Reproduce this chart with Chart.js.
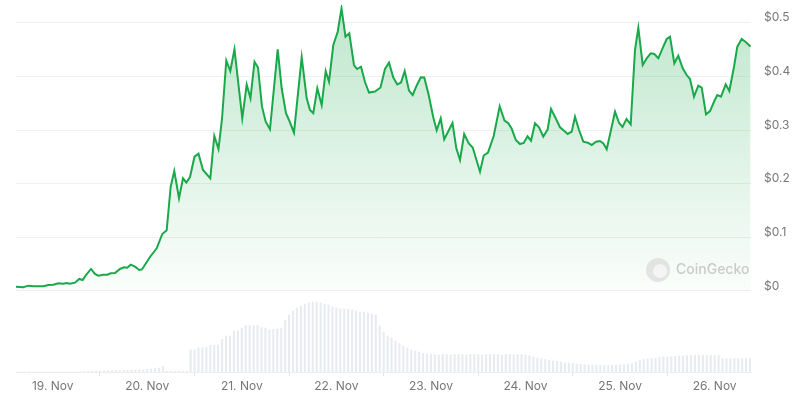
<!DOCTYPE html>
<html>
<head>
<meta charset="utf-8">
<script src="https://cdn.jsdelivr.net/npm/chart.js@4"></script>
<style>
  html, body { margin: 0; padding: 0; background: #fff; }
  #wrap { width: 800px; height: 400px; position: relative; }
</style>
</head>
<body>
<div id="wrap"><canvas id="priceChart"></canvas></div>
<script>
// hours counted from 19 Nov 00:00
var priceHours = [
  -9.31, -7.46, -6.19, -4.92, -2.39, -1.12, 0.15, 1.42, 2.69, 3.55, 4.39, 5.66, 6.75, 7.61, 8.45, 9.72,
  10.74, 11.57, 12.84, 13.86, 14.72, 15.81, 17.08, 18.10, 18.93, 19.80, 20.89, 21.98, 22.66, 24.70,
  26.40, 27.82, 28.93, 29.95, 30.86, 32.06, 33.07, 33.91, 34.85, 35.99, 37.01, 38.15, 40.00, 41.02,
  42.08, 42.97, 44.06, 45.08, 46.14, 48.12, 49.24, 50.20, 51.22, 52.11, 53.12, 54.06, 55.15, 57.11,
  58.12, 59.21, 59.97, 61.24, 63.20, 64.47, 65.30, 66.14, 67.16, 68.27, 69.29, 70.13, 71.22, 72.34,
  73.30, 74.31, 75.28, 76.47, 77.23, 78.25, 79.26, 80.28, 81.80, 83.20, 84.34, 85.36, 86.45, 87.46,
  88.40, 89.34, 90.43, 91.37, 92.39, 93.43, 94.31, 95.43, 96.60, 97.46, 98.48, 99.37, 101.47, 102.44,
  103.38, 104.44, 105.61, 106.60, 108.45, 109.39, 110.48, 111.93, 113.45, 114.67, 115.63, 116.50,
  117.54, 118.60, 119.54, 120.51, 121.40, 122.41, 123.43, 124.52, 125.63, 126.47, 127.66, 128.76,
  129.85, 130.71, 131.73, 132.56, 133.58, 134.67, 135.79, 136.80, 137.89, 138.91, 139.75, 140.61,
  141.70, 142.72, 143.73, 144.62, 145.63, 146.70, 147.79, 148.63, 149.75, 150.76, 151.78, 152.69,
  153.71, 154.97, 155.84, 156.68, 157.77, 158.78, 159.90, 160.91, 161.75, 162.77, 163.86, 164.72,
  165.81, 166.83, 167.92, 168.68, 169.62, 170.81, 171.73, 172.92, 173.76, 174.87, 175.96, 177.11
];
var priceValues = [
  0.0080, 0.0069, 0.0099, 0.0088, 0.0088, 0.0112, 0.0117, 0.0143, 0.0136, 0.0149, 0.0136, 0.0155, 0.0224, 0.0205, 0.0298, 0.0410,
  0.0317, 0.0285, 0.0304, 0.0304, 0.0330, 0.0335, 0.0410, 0.0442, 0.0434, 0.0490, 0.0453, 0.0391, 0.0401, 0.0634,
  0.0796, 0.1062, 0.1131, 0.1944, 0.2236, 0.1728, 0.2100, 0.2022, 0.2124, 0.2503, 0.2559, 0.2255, 0.2100, 0.2889,
  0.2646, 0.3205, 0.4296, 0.4100, 0.4504, 0.3218, 0.3848, 0.3591, 0.4273, 0.4165, 0.3435, 0.3155, 0.3013, 0.4504,
  0.3778, 0.3312, 0.3187, 0.2950, 0.4355, 0.3591, 0.3373, 0.3312, 0.3778, 0.3466, 0.4100, 0.3901, 0.4584, 0.4832,
  0.5268, 0.4739, 0.4802, 0.4212, 0.4137, 0.4180, 0.3895, 0.3699, 0.3718, 0.3792, 0.4137, 0.4255, 0.3979, 0.3848,
  0.3886, 0.4100, 0.3736, 0.3653, 0.3830, 0.3982, 0.3979, 0.3653, 0.3233, 0.2995, 0.3218, 0.2827, 0.3131, 0.2659,
  0.2441, 0.2926, 0.2752, 0.2674, 0.2223, 0.2525, 0.2581, 0.2889, 0.3442, 0.3177, 0.3125, 0.3023,
  0.2814, 0.2739, 0.2758, 0.2883, 0.2801, 0.3125, 0.3051, 0.2876, 0.3013, 0.3392, 0.3218, 0.3051,
  0.2982, 0.2926, 0.2969, 0.3248, 0.3000, 0.2782, 0.2764, 0.2721, 0.2782, 0.2795, 0.2752, 0.2641,
  0.3000, 0.3342, 0.3136, 0.3056, 0.3205, 0.3106, 0.4491, 0.4907, 0.4212, 0.4337, 0.4430, 0.4417,
  0.4337, 0.4553, 0.4696, 0.4739, 0.4243, 0.4385, 0.4150, 0.4025, 0.3951, 0.3621, 0.3826, 0.3789,
  0.3293, 0.3354, 0.3541, 0.3653, 0.3621, 0.3852, 0.3727, 0.4180, 0.4553, 0.4696, 0.4635, 0.4556
];

// hourly volume bars, first bar at volStartHour (relative units)
var volStartHour = -9;
var volumeVals = [
  0.2, 0.2, 0.2, 0.2, 0.2, 0.2, 0.2, 0.2, 0.2, 0.2, 0.2, 0.2, 0.2, 0.2, 0.2, 0.2, 0.2, 0.2,
  0.8, 0.9, 1, 1, 1.1, 1.2, 1.2, 1.3, 1.4, 1.5, 1.6, 1.8, 2, 2.2, 2.4, 2.6, 3, 3.5, 4,
  5.5,
  0.8, 0.8, 0.8, 0.9, 0.9, 1,
  22, 22, 24, 24, 24.5, 26.5, 26.5, 27, 32.5, 36, 36, 41, 41, 44, 46.5, 46.5, 46.5, 46.5, 44.5, 44,
  42, 42.5, 43, 44, 52, 57, 61, 64, 66, 68, 69, 70, 70, 69, 68, 67, 65, 64, 63, 63, 63, 62, 61, 60,
  60, 59, 58, 57, 46, 40, 36, 34, 31, 28.5, 26, 24, 22, 21, 20, 18.5, 18,
  17.5, 17.5, 17, 17.5, 17.5, 17, 17.5, 17.5, 17.5, 17, 17.5, 17.5, 17.5, 17, 17.5, 17.5, 17.5, 17.5,
  17, 17.5, 17.5, 17, 17.5, 17.5, 17,
  16, 15, 14, 13, 12.5, 11.5, 11, 10.5, 10, 9, 9, 8.5, 8, 7.7, 7.5,
  7, 7, 6.8, 6.7, 6.7, 6.7, 6.8, 7,
  7.2, 7.5, 8, 8.5, 10, 11.5, 12.5, 13, 13.5, 14, 14.5, 15, 15, 15.5, 15.5, 16, 16,
  16.5, 16.5, 16.7, 16.7, 16.7, 16.7, 16.7, 16.5, 16.5,
  13.5, 13.3, 13.3, 13.3, 13.3, 13.3, 13.3, 13.3
];

var dayHours = [0, 24, 48, 72, 96, 120, 144, 168];
var dayLabels = ['19. Nov', '20. Nov', '21. Nov', '22. Nov', '23. Nov', '24. Nov', '25. Nov', '26. Nov'];
var priceTicks = [0, 0.1, 0.2, 0.3, 0.4, 0.5];

var pricePoints = priceHours.map(function (h, i) { return { x: h, y: priceValues[i] }; });
var volumePoints = volumeVals.map(function (v, i) { return { x: volStartHour + i, y: v }; });

var watermark = {
  id: 'watermark',
  afterDatasetsDraw: function (chart) {
    var ctx = chart.ctx;
    ctx.save();
    ctx.fillStyle = 'rgba(200,200,200,0.45)';
    ctx.beginPath();
    ctx.arc(658, 270, 12, 0, Math.PI * 2);
    ctx.fill();
    ctx.fillStyle = 'rgba(255,255,255,0.6)';
    ctx.beginPath();
    ctx.arc(660, 271, 7, 0, Math.PI * 2);
    ctx.fill();
    ctx.fillStyle = 'rgba(190,190,190,0.8)';
    ctx.font = '500 14px Inter, "Open Sans", sans-serif';
    ctx.textBaseline = 'middle';
    ctx.fillText('CoinGecko', 676, 270);
    ctx.restore();
  }
};

var ctx = document.getElementById('priceChart').getContext('2d');
var chart = new Chart(ctx, {
  type: 'line',
  data: {
    datasets: [
      {
        label: 'Price',
        data: pricePoints,
        yAxisID: 'y',
        borderColor: '#19a84a',
        borderWidth: 2,
        pointRadius: 0,
        tension: 0,
        fill: 'origin',
        backgroundColor: function (c) {
          var area = c.chart.chartArea;
          if (!area) return 'rgba(25,168,74,0.1)';
          var zero = c.chart.scales.y.getPixelForValue(0);
          var g = c.chart.ctx.createLinearGradient(0, area.top, 0, zero);
          g.addColorStop(0, 'rgba(25,168,74,0.28)');
          g.addColorStop(1, 'rgba(25,168,74,0.02)');
          return g;
        },
        order: 1
      },
      {
        type: 'bar',
        label: 'Volume',
        data: volumePoints,
        yAxisID: 'yVol',
        backgroundColor: '#e8ecf1',
        barThickness: 1.5,
        order: 2
      }
    ]
  },
  options: {
    responsive: true,
    maintainAspectRatio: false,
    animation: false,
    layout: { padding: { left: 16, top: 5, right: 0, bottom: 0 } },
    plugins: {
      legend: { display: false },
      tooltip: { enabled: false }
    },
    scales: {
      x: {
        type: 'linear',
        offset: false,
        min: -9.31,
        max: 177.23,
        afterBuildTicks: function (s) {
          s.ticks = dayHours.map(function (v) { return { value: v }; });
        },
        afterFit: function (s) {
          s.height = 28;
          s.paddingLeft = 0;
          s.paddingRight = 0;
        },
        ticks: {
          autoSkip: false,
          maxRotation: 0,
          padding: 3,
          color: '#777',
          font: { family: 'Inter, "Open Sans", sans-serif', size: 12 },
          callback: function (v) { return dayLabels[dayHours.indexOf(v)]; }
        },
        grid: { drawOnChartArea: false, drawTicks: true, tickLength: 4, color: '#e3e3e3' },
        border: { display: true, color: '#eeeeee' }
      },
      y: {
        position: 'right',
        min: -0.151,
        max: 0.533,
        afterBuildTicks: function (s) {
          s.ticks = priceTicks.map(function (v) { return { value: v }; });
        },
        afterFit: function (s) {
          s.width = 49;
          s.paddingTop = 0;
          s.paddingBottom = 0;
        },
        ticks: {
          padding: 13,
          labelOffset: -5,
          color: '#777',
          font: { family: 'Inter, "Open Sans", sans-serif', size: 12 },
          callback: function (v) { return '$' + Math.round(v * 10) / 10; }
        },
        grid: { drawTicks: false, color: '#f0f0f0' },
        border: { display: false }
      },
      yVol: {
        display: false,
        min: 0,
        max: 367
      }
    }
  },
  plugins: [watermark]
});
</script>
</body>
</html>
